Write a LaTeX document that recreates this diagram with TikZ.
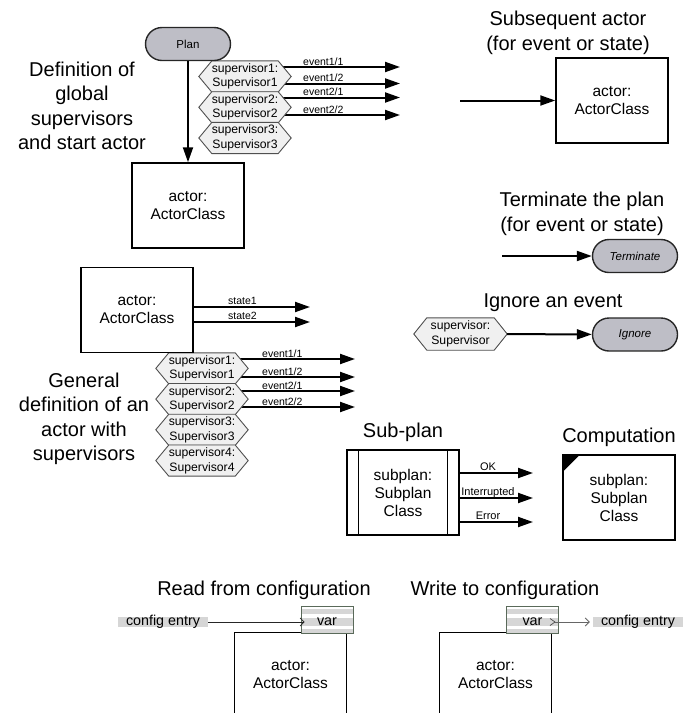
\documentclass[tikz,border=0pt]{standalone}
\usepackage{fontspec}
\setmainfont{Liberation Sans}
\usetikzlibrary{arrows.meta,backgrounds}
\definecolor{pillgray}{HTML}{BEBEC6}
\definecolor{hexfill}{HTML}{F0F0F0}
\definecolor{hexline}{HTML}{505050}
\definecolor{cfgband}{HTML}{D6D6D6}
\definecolor{varline}{HTML}{5A6A5A}
\tikzset{
  heading/.style={inner sep=0pt, font=\fontsize{20}{24.5}\selectfont, align=center},
  actorbox/.style={draw=black, line width=1.5pt, minimum width=112pt, minimum height=85pt, inner sep=0pt, align=center, font=\fontsize{15.5}{18}\selectfont},
  pill/.style={draw=black!85, line width=1.4pt, fill=pillgray, rounded corners=16.5pt, minimum width=85pt, minimum height=33pt, inner sep=0pt, font=\fontsize{11.5}{13}\selectfont},
  hexbox/.style={minimum width=92pt, minimum height=30.75pt, inner sep=0pt, align=center, font=\fontsize{12.2}{14.5}\selectfont},
  hexshape/.style={draw=hexline, line width=0.9pt, fill=hexfill},
  conn/.style={line width=2pt, -{Triangle[length=15pt,width=10pt]}},
  lbl/.style={inner sep=0pt, font=\fontsize{10.5}{12}\selectfont, anchor=base west},
  splbl/.style={inner sep=0pt, font=\fontsize{11}{12}\selectfont, anchor=base},
  varbox/.style={draw=varline, line width=0.6pt, minimum width=52pt, minimum height=27pt, inner sep=0pt,
    font=\fontsize{14.4}{16}\selectfont, text height=12.4pt, text depth=0pt,
    path picture={
      \fill[cfgband] ([yshift=-3pt]path picture bounding box.north west) rectangle ([yshift=-8pt]path picture bounding box.north east);
      \fill[cfgband] ([yshift=-12pt]path picture bounding box.north west) rectangle ([yshift=-20pt]path picture bounding box.north east);
      \fill[cfgband] ([yshift=-23pt]path picture bounding box.north west) rectangle (path picture bounding box.south east);}},
  cfgentry/.style={fill=cfgband, minimum width=90pt, text height=8pt, text depth=2pt, inner sep=0pt, font=\fontsize{14.3}{16}\selectfont},
  cfgarr/.style={line width=0.8pt, -{Straight Barb[length=4pt,width=8pt]}}
}
\begin{document}
\begin{tikzpicture}[x=1pt,y=-1pt]
\useasboundingbox (0,0) rectangle (693,713);

% ---------- Definition of global supervisors and start actor
\node[heading] (hdef) at (82,106) {Definition of\\global\\supervisors\\and start actor};
\node[pill] (plan) at (188,44) {Plan};
\node[hexbox] (s1) at (245,76.5) {supervisor1:\\Supervisor1};
\node[hexbox] (s2) at (245,107.3) {supervisor2:\\Supervisor2};
\node[hexbox] (s3) at (245,138) {supervisor3:\\Supervisor3};
\node[actorbox] (actor1) at (188,205.5) {actor:\\ActorClass};
\coordinate (e11) at (400,67);
\coordinate (e12) at (400,83.5);
\coordinate (e21) at (400,97.5);
\coordinate (e22) at (400,115);
\node[lbl] (l11) at (303,65) {event1/1};
\node[lbl] (l12) at (303,81.5) {event1/2};
\node[lbl] (l21) at (303,95.5) {event2/1};
\node[lbl] (l22) at (303,113) {event2/2};
\draw[conn] (plan) -- (actor1);

% ---------- General definition of an actor with supervisors
\node[heading] (hgen) at (84,419) {General\\definition of an\\actor with\\supervisors};
\node[actorbox] (actor2) at (137,310) {actor:\\ActorClass};
\coordinate (st1) at (310,307);
\coordinate (st2) at (310,322);
\node[lbl] (ls1) at (228,304.5) {state1};
\node[lbl] (ls2) at (228,319.5) {state2};
\draw[conn] (actor2.east |- st1) -- (st1);
\draw[conn] (actor2.east |- st2) -- (st2);
\node[hexbox] (u1) at (202,368.4) {supervisor1:\\Supervisor1};
\node[hexbox] (u2) at (202,399.1) {supervisor2:\\Supervisor2};
\node[hexbox] (u3) at (202,429.8) {supervisor3:\\Supervisor3};
\node[hexbox] (u4) at (202,460.6) {supervisor4:\\Supervisor4};
\coordinate (f11) at (355,359);
\coordinate (f12) at (355,377);
\coordinate (f21) at (355,391);
\coordinate (f22) at (355,407);
\node[lbl] (m11) at (262,357) {event1/1};
\node[lbl] (m12) at (262,375) {event1/2};
\node[lbl] (m21) at (262,389) {event2/1};
\node[lbl] (m22) at (262,405) {event2/2};

% ---------- Subsequent actor
\node[heading] (hsub) at (568,33) {Subsequent actor\\(for event or state)};
\node[actorbox] (actor3) at (612,100.5) {actor:\\ActorClass};
\coordinate (sa) at (460,100.5);
\draw[conn] (sa) -- (actor3);

% ---------- Terminate
\node[heading] (hterm) at (582,214) {Terminate the plan\\(for event or state)};
\node[pill] (term) at (635,256) {\itshape Terminate};
\coordinate (tt) at (502,256);
\draw[conn] (tt) -- (term);

% ---------- Ignore
\node[heading] (hign) at (553,303) {Ignore an event};
\node[hexbox, minimum width=93pt, minimum height=32pt] (sv) at (460.5,334) {supervisor:\\Supervisor};
\node[pill] (ign) at (635,334.5) {\itshape Ignore};
\draw[conn] (sv) -- (ign);

% ---------- Sub-plan
\node[heading] (hsp) at (403,432) {Sub-plan};
\node[actorbox] (sp) at (403,492.5) {subplan:\\Subplan\\Class};
\draw[line width=1.2pt] ([xshift=12pt]sp.north west) -- ([xshift=12pt]sp.south west);
\draw[line width=1.2pt] ([xshift=-12pt]sp.north east) -- ([xshift=-12pt]sp.south east);
\coordinate (ok) at (533,473);
\coordinate (ir) at (533,498);
\coordinate (er) at (533,522);
\draw[conn] (sp.east |- ok) -- (ok);
\draw[conn] (sp.east |- ir) -- (ir);
\draw[conn] (sp.east |- er) -- (er);
\node[splbl] (lok) at (488,470) {OK};
\node[splbl] (lir) at (488,495) {Interrupted};
\node[splbl] (ler) at (488,519) {Error};

% ---------- Computation
\node[heading] (hcomp) at (619,437) {Computation};
\node[actorbox] (comp) at (619,497.5) {subplan:\\Subplan\\Class};
\fill (comp.north west) -- ([xshift=18pt]comp.north west) -- ([yshift=-18pt]comp.north west) -- cycle;

% ---------- Read from configuration
\node[heading] (hread) at (264,590) {Read from configuration};
\node[actorbox] (ra) at (290.5,675) {actor:\\ActorClass};
\node[varbox] (rvar) at (327,619.5) {var};
\node[cfgentry] (configr) at (163,622) {config entry};
\draw[cfgarr, draw=black!85] (configr.east) -- ([xshift=4pt]configr.east -| rvar.west);

% ---------- Write to configuration
\node[heading] (hwrite) at (505,590) {Write to configuration};
\node[actorbox] (wa) at (495.5,675) {actor:\\ActorClass};
\node[varbox] (wvar) at (532.5,619.5) {var};
\node[cfgentry] (configw) at (638,622) {config entry};
\coordinate (wch) at (555,622);
\draw[line width=0.7pt, draw=black!70] ([xshift=-5pt,yshift=3.5pt]wch) -- (wch) -- ([xshift=-5pt,yshift=-3.5pt]wch);
\draw[cfgarr, draw=black!60] (wch) -- ([xshift=-3pt]configw.west);

% ---------- background: event arrows and hexagon outlines
\begin{scope}[on background layer]
\draw[conn] (s1.center |- e11) -- (e11);
\draw[conn] (s1.center |- e12) -- (e12);
\draw[conn] (s2.center |- e21) -- (e21);
\draw[conn] (s2.center |- e22) -- (e22);
\draw[conn] (u1.center |- f11) -- (f11);
\draw[conn] (u1.center |- f12) -- (f12);
\draw[conn] (u2.center |- f21) -- (f21);
\draw[conn] (u2.center |- f22) -- (f22);
\foreach \n in {s1,s2,s3,u1,u2,u3,u4,sv}
  \draw[hexshape] (\n.west) -- ([xshift=13pt]\n.north west) -- ([xshift=-13pt]\n.north east) -- (\n.east) -- ([xshift=-13pt]\n.south east) -- ([xshift=13pt]\n.south west) -- cycle;
\end{scope}
\end{tikzpicture}
\end{document}
